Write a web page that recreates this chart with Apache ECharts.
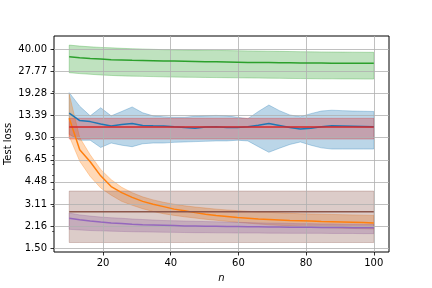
<!DOCTYPE html>
<html>
<head>
<meta charset="utf-8">
<script src="https://cdn.jsdelivr.net/npm/echarts@6/dist/echarts.min.js"></script>
<style>html,body{margin:0;padding:0;background:#fff}#c{width:432px;height:288px}</style>
</head>
<body>
<div id="c"></div>
<script>
// x values (n)
var nVals = [10, 13.1, 16.2, 19.3, 22.4, 25.5, 28.6, 31.7, 34.8, 37.9, 41, 44.1, 47.2, 50.3, 53.4, 56.6, 59.7, 62.8, 65.9, 69, 72.1, 75.2, 78.3, 81.4, 84.5, 87.6, 90.7, 93.8, 96.9, 100];

// tick labels
var xTicks = [20, 40, 60, 80, 100];
var yTicks = [1.50, 2.16, 3.11, 4.48, 6.45, 9.30, 13.39, 19.28, 27.77, 40.00];
var yMinorTicks = [2, 3, 4, 5, 6, 7, 8, 9, 20, 30, 40];

// blue
var blueMean = [13.9, 12.3, 12.1, 11.62, 11.25, 11.55, 11.74, 11.36, 11.29, 11.25, 11.1, 10.96, 10.86, 11.05, 11.1, 10.98, 10.98, 11.1, 11.4, 11.74, 11.35, 10.96, 10.7, 10.86, 11.1, 11.29, 11.25, 11.2, 11.15, 11.1];
var blueHi = [19.5, 15.6, 13.3, 15.2, 13.3, 14.3, 15.4, 14.0, 13.3, 13.1, 13.0, 13.0, 13.2, 13.3, 13.4, 13.3, 13.0, 12.7, 14.3, 15.9, 14.5, 13.5, 13.1, 13.8, 14.4, 14.6, 14.5, 14.4, 14.35, 14.3];
var blueLo = [9.8, 8.9, 8.9, 7.9, 8.5, 8.2, 8.0, 8.4, 8.5, 8.5, 8.6, 8.65, 8.7, 8.75, 8.8, 8.8, 8.9, 8.8, 8.0, 7.3, 7.8, 8.3, 8.65, 8.2, 7.85, 7.7, 7.7, 7.7, 7.7, 7.7];

// orange
var orangeMean = [12.8, 7.6, 6.25, 4.95, 4.15, 3.75, 3.47, 3.25, 3.1, 2.98, 2.86, 2.78, 2.70, 2.63, 2.57, 2.53, 2.49, 2.46, 2.43, 2.41, 2.39, 2.37, 2.36, 2.35, 2.33, 2.32, 2.31, 2.30, 2.29, 2.28];
var orangeHi = [19.0, 9.3, 7.0, 5.5, 4.65, 4.1, 3.75, 3.5, 3.33, 3.2, 3.1, 3.02, 2.96, 2.91, 2.86, 2.82, 2.79, 2.76, 2.73, 2.71, 2.69, 2.67, 2.65, 2.64, 2.63, 2.62, 2.61, 2.60, 2.59, 2.58];
var orangeLo = [9.5, 6.3, 4.9, 4.05, 3.6, 3.25, 3.05, 2.88, 2.75, 2.65, 2.58, 2.52, 2.47, 2.42, 2.38, 2.34, 2.30, 2.27, 2.24, 2.21, 2.19, 2.17, 2.15, 2.13, 2.11, 2.10, 2.09, 2.08, 2.07, 2.06];

// green
var greenMean = [35.2, 34.6, 34.2, 33.9, 33.6, 33.4, 33.2, 33.1, 33.0, 32.9, 32.8, 32.7, 32.6, 32.5, 32.4, 32.3, 32.2, 32.1, 32.05, 32.0, 31.95, 31.9, 31.85, 31.8, 31.75, 31.7, 31.65, 31.6, 31.6, 31.6];
var greenHi = [42.7, 42.0, 41.5, 41.1, 40.8, 40.5, 40.2, 40.0, 39.8, 39.6, 39.5, 39.4, 39.3, 39.2, 39.1, 39.0, 38.9, 38.8, 38.7, 38.6, 38.5, 38.4, 38.3, 38.2, 38.15, 38.1, 38.05, 38.0, 37.95, 37.9];
var greenLo = [27.1, 26.7, 26.4, 26.1, 25.9, 25.7, 25.6, 25.5, 25.4, 25.3, 25.2, 25.15, 25.1, 25.05, 25.0, 24.95, 24.9, 24.85, 24.8, 24.75, 24.7, 24.65, 24.6, 24.55, 24.5, 24.5, 24.45, 24.45, 24.4, 24.4];

// red
var redMean = [11.07, 11.07, 11.07, 11.07, 11.07, 11.07, 11.07, 11.07, 11.07, 11.07, 11.07, 11.07, 11.07, 11.07, 11.07, 11.07, 11.07, 11.07, 11.07, 11.07, 11.07, 11.07, 11.07, 11.07, 11.07, 11.07, 11.07, 11.07, 11.07, 11.07];
var redHi = [12.78, 12.78, 12.78, 12.78, 12.78, 12.78, 12.78, 12.78, 12.78, 12.78, 12.78, 12.78, 12.78, 12.78, 12.78, 12.78, 12.78, 12.78, 12.78, 12.78, 12.78, 12.78, 12.78, 12.78, 12.78, 12.78, 12.78, 12.78, 12.78, 12.78];
var redLo = [9.08, 9.08, 9.08, 9.08, 9.08, 9.08, 9.08, 9.08, 9.08, 9.08, 9.08, 9.08, 9.08, 9.08, 9.08, 9.08, 9.08, 9.08, 9.08, 9.08, 9.08, 9.08, 9.08, 9.08, 9.08, 9.08, 9.08, 9.08, 9.08, 9.08];

// purple
var purpleMean = [2.46, 2.40, 2.35, 2.31, 2.28, 2.26, 2.23, 2.21, 2.20, 2.19, 2.18, 2.17, 2.165, 2.16, 2.155, 2.15, 2.145, 2.14, 2.135, 2.13, 2.13, 2.125, 2.12, 2.12, 2.115, 2.11, 2.11, 2.105, 2.10, 2.10];
var purpleHi = [2.68, 2.60, 2.55, 2.51, 2.48, 2.46, 2.43, 2.41, 2.39, 2.37, 2.36, 2.35, 2.34, 2.33, 2.32, 2.31, 2.30, 2.29, 2.28, 2.27, 2.27, 2.26, 2.25, 2.25, 2.24, 2.24, 2.23, 2.23, 2.22, 2.22];
var purpleLo = [2.05, 2.03, 2.01, 2.0, 1.99, 1.98, 1.97, 1.965, 1.96, 1.955, 1.95, 1.945, 1.94, 1.94, 1.935, 1.935, 1.93, 1.93, 1.93, 1.925, 1.925, 1.92, 1.92, 1.92, 1.92, 1.915, 1.915, 1.915, 1.91, 1.91];

// brown
var brownMean = [2.74, 2.74, 2.74, 2.74, 2.74, 2.74, 2.74, 2.74, 2.74, 2.74, 2.74, 2.74, 2.74, 2.74, 2.74, 2.74, 2.74, 2.74, 2.74, 2.74, 2.74, 2.74, 2.74, 2.74, 2.74, 2.74, 2.74, 2.74, 2.74, 2.74];
var brownHi = [3.85, 3.85, 3.85, 3.85, 3.85, 3.85, 3.85, 3.85, 3.85, 3.85, 3.85, 3.85, 3.85, 3.85, 3.85, 3.85, 3.85, 3.85, 3.85, 3.85, 3.85, 3.85, 3.85, 3.85, 3.85, 3.85, 3.85, 3.85, 3.85, 3.85];
var brownLo = [1.65, 1.65, 1.65, 1.65, 1.65, 1.65, 1.65, 1.65, 1.65, 1.65, 1.65, 1.65, 1.65, 1.65, 1.65, 1.65, 1.65, 1.65, 1.65, 1.65, 1.65, 1.65, 1.65, 1.65, 1.65, 1.65, 1.65, 1.65, 1.65, 1.65];

var groups = [
  {rgb: [31, 119, 180], mean: blueMean, hi: blueHi, lo: blueLo},
  {rgb: [255, 127, 14], mean: orangeMean, hi: orangeHi, lo: orangeLo},
  {rgb: [44, 160, 44], mean: greenMean, hi: greenHi, lo: greenLo},
  {rgb: [214, 39, 40], mean: redMean, hi: redHi, lo: redLo},
  {rgb: [148, 103, 189], mean: purpleMean, hi: purpleHi, lo: purpleLo},
  {rgb: [140, 86, 75], mean: brownMean, hi: brownHi, lo: brownLo}
];

var FONT = 'DejaVu Sans';
var chart = echarts.init(document.getElementById('c'), null, {renderer: 'canvas'});

var series = [];
groups.forEach(function (g) {
  var rgba = 'rgba(' + g.rgb.join(',') + ',0.3)';
  var data = nVals.map(function (x, i) { return [x, g.lo[i], g.hi[i]]; });
  series.push({
    type: 'custom',
    z: 1,
    silent: true,
    data: data,
    encode: {x: 0, y: [1, 2]},
    renderItem: function (params, api) {
      if (params.dataIndex !== 0) return;
      var pts = [];
      for (var i = 0; i < nVals.length; i++) pts.push(api.coord([nVals[i], g.hi[i]]));
      for (var j = nVals.length - 1; j >= 0; j--) pts.push(api.coord([nVals[j], g.lo[j]]));
      return {type: 'polygon', shape: {points: pts}, style: {fill: rgba, stroke: rgba, lineWidth: 1}};
    }
  });
});
groups.forEach(function (g) {
  series.push({
    type: 'line',
    z: 5,
    silent: true,
    showSymbol: false,
    symbol: 'none',
    data: nVals.map(function (x, i) { return [x, g.mean[i]]; }),
    lineStyle: {color: 'rgb(' + g.rgb.join(',') + ')', width: 1.5},
    itemStyle: {color: 'rgb(' + g.rgb.join(',') + ')'}
  });
});

chart.setOption({
  animation: false,
  backgroundColor: '#fff',
  grid: {left: 54, right: 43, top: 36, bottom: 36, containLabel: false, outerBoundsMode: 'none',
    show: true, borderColor: '#000', borderWidth: 1, backgroundColor: 'transparent'},
  xAxis: {
    type: 'value', min: 5.5, max: 104.5, z: 3,
    name: 'n', nameLocation: 'middle', nameGap: 21, nameMoveOverlap: false,
    nameTextStyle: {fontFamily: FONT, fontSize: 10, fontStyle: 'italic', color: '#000'},
    axisLine: {show: false},
    axisTick: {show: true, length: 3.5, inside: false, customValues: xTicks, lineStyle: {color: '#000', width: 0.8}},
    axisLabel: {customValues: xTicks, margin: 6, fontFamily: FONT, fontSize: 10, color: '#000'},
    splitLine: {show: true, lineStyle: {color: '#b0b0b0', width: 0.8}}
  },
  yAxis: [{
    type: 'log', min: 1.411, max: 49.6, z: 3,
    name: 'Test loss', nameLocation: 'middle', nameGap: 46, nameMoveOverlap: false,
    nameTextStyle: {fontFamily: FONT, fontSize: 10, color: '#000', verticalAlign: 'middle'},
    axisLine: {show: false},
    axisTick: {show: true, length: 3.5, customValues: yTicks, lineStyle: {color: '#000', width: 0.8}},
    axisLabel: {customValues: yTicks, margin: 7, fontFamily: FONT, fontSize: 10, color: '#000',
      formatter: function (v) { return Number(v).toFixed(2); }},
    splitLine: {show: true, lineStyle: {color: '#b0b0b0', width: 0.8}},
    minorTick: {show: false}
  }, {
    type: 'log', min: 1.411, max: 49.6, z: 3, position: 'left',
    axisLine: {show: false},
    axisTick: {show: true, length: 2, customValues: yMinorTicks, lineStyle: {color: '#000', width: 0.6}},
    axisLabel: {show: false},
    splitLine: {show: false}
  }],
  series: series
});
</script>
</body>
</html>
